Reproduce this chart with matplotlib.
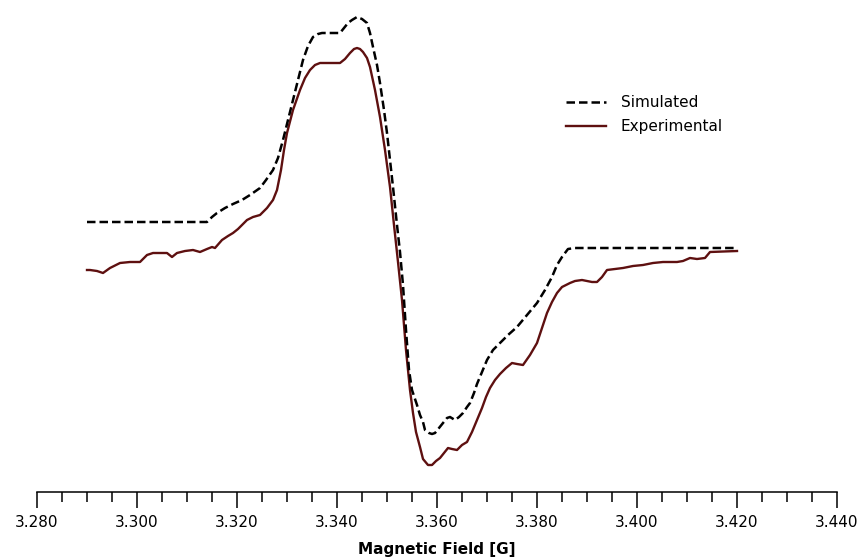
import matplotlib
matplotlib.use("Agg")
import matplotlib.pyplot as plt
import numpy as np
from matplotlib.ticker import MultipleLocator, FormatStrFormatter

# Magnetic field [G] and intensity (arbitrary units)
exp_field = [3.2900, 3.2906, 3.2920, 3.2932, 3.2946, 3.2966, 3.2986, 3.3006, 3.3020, 3.3032,
             3.3046, 3.3060, 3.3070, 3.3080, 3.3096, 3.3112, 3.3126, 3.3140, 3.3150, 3.3156,
             3.3170, 3.3182, 3.3192, 3.3202, 3.3210, 3.3220, 3.3232, 3.3246, 3.3260, 3.3272,
             3.3280, 3.3288, 3.3294, 3.3300, 3.3312, 3.3326, 3.3336, 3.3346, 3.3356, 3.3366,
             3.3386, 3.3406, 3.3416, 3.3426, 3.3434, 3.3440, 3.3446, 3.3452, 3.3460, 3.3466,
             3.3476, 3.3486, 3.3496, 3.3506, 3.3514, 3.3522, 3.3530, 3.3538, 3.3546, 3.3552,
             3.3558, 3.3566, 3.3572, 3.3582, 3.3590, 3.3598, 3.3606, 3.3614, 3.3622, 3.3630,
             3.3640, 3.3650, 3.3660, 3.3670, 3.3680, 3.3690, 3.3698, 3.3706, 3.3716, 3.3726,
             3.3738, 3.3750, 3.3760, 3.3772, 3.3786, 3.3800, 3.3810, 3.3820, 3.3830, 3.3840,
             3.3850, 3.3866, 3.3876, 3.3890, 3.3900, 3.3910, 3.3920, 3.3930, 3.3940, 3.3956,
             3.3972, 3.3992, 3.4012, 3.4032, 3.4052, 3.4066, 3.4080, 3.4092, 3.4106, 3.4120,
             3.4136, 3.4146, 3.4200]
exp_signal = [-20, -20, -21, -23, -18, -13, -12, -12, -5, -3,
              -3, -3, -7, -3, -1, 0, -2, 1, 3, 2,
              10, 14, 17, 21, 25, 30, 33, 35, 42, 50,
              60, 80, 100, 117, 140, 160, 172, 180, 185, 187,
              187, 187, 191, 197, 201, 202, 201, 198, 192, 183,
              160, 133, 100, 63, 25, -12, -50, -100, -140, -163,
              -182, -197, -209, -215, -215, -211, -208, -203, -198, -199,
              -200, -195, -192, -182, -170, -158, -147, -138, -130, -124,
              -118, -113, -114, -115, -105, -93, -78, -63, -52, -43,
              -37, -33, -31, -30, -31, -32, -32, -27, -20, -19,
              -18, -16, -15, -13, -12, -12, -12, -11, -8, -9,
              -8, -2, -1]

sim_field = [3.2900, 3.3140, 3.3150, 3.3160, 3.3176, 3.3192, 3.3210, 3.3226, 3.3246, 3.3258,
             3.3272, 3.3282, 3.3292, 3.3302, 3.3312, 3.3322, 3.3332, 3.3342, 3.3352, 3.3362,
             3.3370, 3.3406, 3.3414, 3.3422, 3.3430, 3.3440, 3.3450, 3.3460, 3.3466, 3.3472,
             3.3480, 3.3486, 3.3494, 3.3500, 3.3506, 3.3512, 3.3520, 3.3526, 3.3532, 3.3538,
             3.3544, 3.3550, 3.3560, 3.3566, 3.3572, 3.3576, 3.3584, 3.3590, 3.3596, 3.3604,
             3.3612, 3.3620, 3.3626, 3.3636, 3.3644, 3.3652, 3.3660, 3.3666, 3.3674, 3.3680,
             3.3690, 3.3700, 3.3712, 3.3726, 3.3742, 3.3760, 3.3780, 3.3800, 3.3816, 3.3830,
             3.3840, 3.3850, 3.3862, 3.3876, 3.4200]
sim_signal = [28, 28, 33, 37, 42, 46, 50, 55, 62, 70,
              80, 92, 110, 130, 150, 170, 190, 204, 213, 216,
              217, 217, 222, 227, 230, 233, 231, 227, 217, 203,
              185, 167, 140, 117, 90, 63, 25, -2, -35, -80,
              -120, -140, -155, -165, -172, -180, -183, -184, -183, -178,
              -173, -168, -167, -170, -167, -163, -157, -153, -143, -134,
              -122, -110, -100, -93, -85, -77, -65, -53, -40, -27,
              -15, -7, 1, 2, 2]

fig = plt.figure(figsize=(8.59, 5.58), dpi=100)
ax = fig.add_axes([37 / 859, (558 - 492) / 558, 800 / 859, 492 / 558])

ax.plot(sim_field, sim_signal, color="black", lw=1.8, linestyle=(0, (3.4, 1.6)),
        label="Simulated", zorder=3)
ax.plot(exp_field, exp_signal, color="#5e1010", lw=1.7, label="Experimental", zorder=2)

ax.set_xlim(3.280, 3.440)
ax.set_ylim(-242, 250)

for s in ["top", "right", "left"]:
    ax.spines[s].set_visible(False)
ax.spines["bottom"].set_linewidth(1.1)
ax.set_yticks([])

ax.xaxis.set_major_locator(MultipleLocator(0.02))
ax.xaxis.set_minor_locator(MultipleLocator(0.005))
ax.xaxis.set_major_formatter(FormatStrFormatter("%.3f"))
ax.tick_params(axis="x", which="major", direction="out", length=11.5, width=1.1,
               labelsize=11, pad=5, colors="black")
ax.tick_params(axis="x", which="minor", direction="out", length=7, width=1.1)
ax.set_xlabel("Magnetic Field [G]", fontsize=11, fontweight="bold", labelpad=8.5)

fig.legend(loc="upper left", bbox_to_anchor=(566 / 859, 1 - 95 / 558), frameon=False,
           fontsize=11, handlelength=2.6, handletextpad=1.0, labelspacing=0.6,
           borderpad=0, borderaxespad=0)

fig.savefig("out.png", dpi=100)
